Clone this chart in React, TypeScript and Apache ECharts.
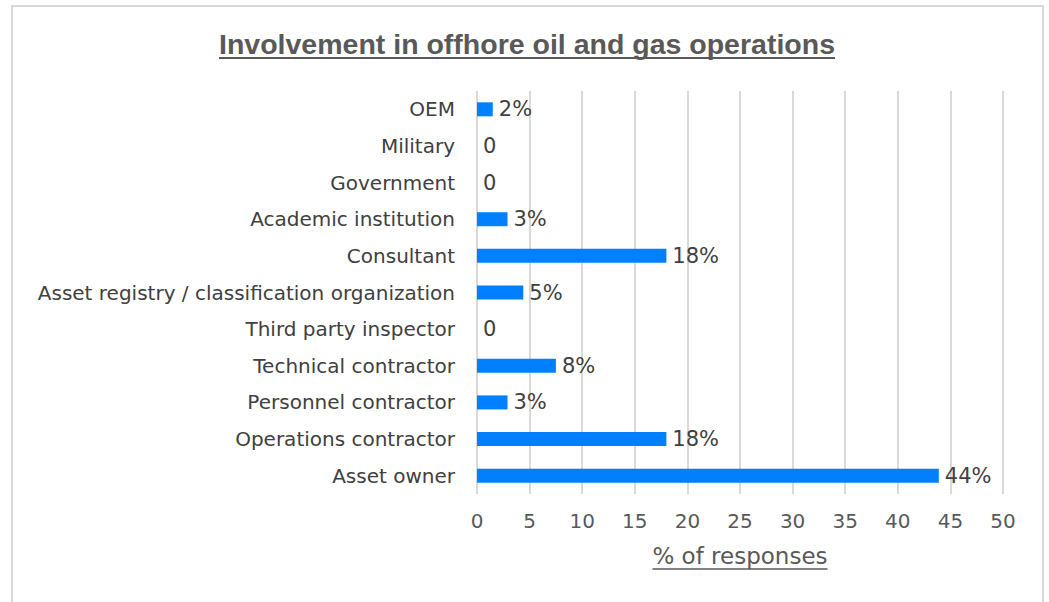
import React, { useEffect, useRef } from "react";
import * as echarts from "echarts";

const categories = [
  "Asset owner",
  "Operations contractor",
  "Personnel contractor",
  "Technical contractor",
  "Third party inspector",
  "Asset registry / classification organization",
  "Consultant",
  "Academic institution",
  "Government",
  "Military",
  "OEM",
];
const values = [43.9, 18, 2.9, 7.5, 0, 4.4, 18, 2.9, 0, 0, 1.5];
const valueLabels = ["44%", "18%", "3%", "8%", "0", "5%", "18%", "3%", "0", "0", "2%"];
const titleText = "Involvement in offhore oil and gas operations";
const axisTitle = "% of responses";

const W = 1049;
const H = 602;
const TITLE_FONT = "bold 28.5px 'Liberation Sans'";
const AXIS_FONT = "23px 'DejaVu Sans'";

function measure(text: string, font: string): number {
  const c = document.createElement("canvas");
  const ctx = c.getContext("2d");
  if (!ctx) return text.length * 10;
  ctx.font = font;
  return ctx.measureText(text).width;
}

export default function App() {
  const ref = useRef<HTMLDivElement>(null);
  useEffect(() => {
    if (!ref.current) return;
    const chart = echarts.init(ref.current, undefined, { renderer: "svg" });
    const gridLeft = 477;
    const gridRight = 46;
    const plotCenter = gridLeft + (W - gridLeft - gridRight) / 2;
    const tW = measure(titleText, TITLE_FONT);
    const aW = measure(axisTitle, AXIS_FONT);
    const titleCx = 527;
    chart.setOption({
      animation: false,
      backgroundColor: "#ffffff",
      grid: { left: gridLeft, right: gridRight, top: 91, bottom: H - 494, containLabel: false },
      xAxis: {
        type: "value",
        min: 0,
        max: 50,
        interval: 5,
        axisLine: { show: false },
        axisTick: { show: false },
        splitLine: { show: true, lineStyle: { color: "#d9d9d9", width: 2 } },
        axisLabel: {
          color: "#595959",
          fontSize: 20,
          fontFamily: "DejaVu Sans",
          margin: 17,
        },
      },
      yAxis: {
        type: "category",
        data: categories,
        axisLine: { show: false },
        axisTick: { show: false },
        axisLabel: {
          color: "#404040",
          fontSize: 20,
          fontFamily: "DejaVu Sans",
          margin: 22,
        },
      },
      series: [
        {
          type: "bar",
          data: values,
          barWidth: 14,
          itemStyle: { color: "#0080ff" },
          label: {
            show: true,
            position: "right",
            distance: 6,
            color: "#404040",
            fontSize: 21,
            fontFamily: "DejaVu Sans",
            formatter: (p: any) => valueLabels[p.dataIndex],
          },
        },
      ],
      graphic: [
        {
          type: "rect",
          silent: true,
          shape: { x: 12, y: 6, width: 1031, height: 620 },
          style: { fill: "none", stroke: "#d9d9d9", lineWidth: 2 },
        },
        {
          type: "text",
          x: titleCx,
          y: 44,
          style: {
            text: titleText,
            font: TITLE_FONT,
            fill: "#595959",
            textAlign: "center",
            textVerticalAlign: "middle",
          },
        },
        {
          type: "line",
          shape: { x1: titleCx - tW / 2, y1: 58, x2: titleCx + tW / 2, y2: 58 },
          style: { stroke: "#595959", lineWidth: 2 },
        },
        {
          type: "text",
          x: plotCenter,
          y: 556,
          style: {
            text: axisTitle,
            font: AXIS_FONT,
            fill: "#595959",
            textAlign: "center",
            textVerticalAlign: "middle",
          },
        },
        {
          type: "line",
          shape: { x1: plotCenter - aW / 2, y1: 569, x2: plotCenter + aW / 2, y2: 569 },
          style: { stroke: "#595959", lineWidth: 1.5 },
        },
      ],
    });
    return () => chart.dispose();
  }, []);
  return (
    <div
      ref={ref}
      style={{ position: "absolute", left: 0, top: 0, width: W, height: H }}
    />
  );
}
